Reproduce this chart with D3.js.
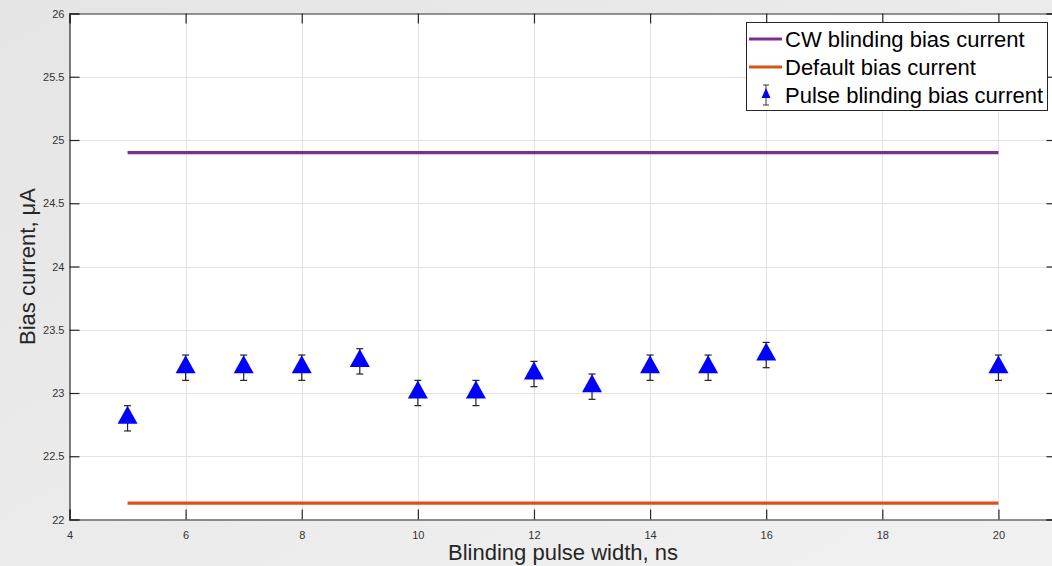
<!DOCTYPE html>
<html><head><meta charset="utf-8">
<script src="https://cdn.jsdelivr.net/npm/d3@7"></script>
<style>
html,body{margin:0;padding:0;background:#eae9e9;}
svg{display:block;font-family:"Liberation Sans",Arial,Helvetica,sans-serif;}
</style></head><body>
<svg id="chart" width="1052" height="566"></svg>
<script>
const pulseWidths = [5, 6, 7, 8, 9, 10, 11, 12, 13, 14, 15, 16, 20];
const pulseBias = [22.8, 23.2, 23.2, 23.2, 23.25, 23.0, 23.0, 23.15, 23.05, 23.2, 23.2, 23.3, 23.2];
const pulseErr = [0.1, 0.1, 0.1, 0.1, 0.1, 0.1, 0.1, 0.1, 0.1, 0.1, 0.1, 0.1, 0.1];
const cwBias = 24.9;
const defaultBias = 22.13;
const lineRange = [5, 20];
const xTicks = [4, 6, 8, 10, 12, 14, 16, 18, 20];
const yTicks = [22, 22.5, 23, 23.5, 24, 24.5, 25, 25.5, 26];
const legendLabels = ["CW blinding bias current", "Default bias current", "Pulse blinding bias current"];
const colors = {cw: "#7E2F8E", def: "#D95319", pulse: "#0000FF"};

const svg = d3.select("#chart");
const W = 1052, H = 566;
const defs = svg.append("defs");
const grad = defs.append("linearGradient").attr("id","bg").attr("x1","0").attr("y1","0").attr("x2","1").attr("y2","1");
grad.append("stop").attr("offset","0").attr("stop-color","#e6e5e5");
grad.append("stop").attr("offset","1").attr("stop-color","#f2f1f1");
svg.append("rect").attr("width",W).attr("height",H).attr("fill","url(#bg)");

const m = {left: 69.5, top: 13.5, right: 1056.5, bottom: 519.5};
const x = d3.scaleLinear().domain([4, 21]).range([m.left, m.right]);
const y = d3.scaleLinear().domain([22, 26]).range([m.bottom, m.top]);

svg.append("rect").attr("x",m.left).attr("y",m.top).attr("width",m.right-m.left).attr("height",m.bottom-m.top).attr("fill","#fff");

// grid
const grid = svg.append("g").attr("stroke","#e3e3e3").attr("stroke-width",1);
grid.selectAll(".gx").data(xTicks.filter(d=>d>4)).enter().append("line")
  .attr("x1",d=>Math.round(x(d))+0.5).attr("x2",d=>Math.round(x(d))+0.5).attr("y1",m.top).attr("y2",m.bottom);
grid.selectAll(".gy").data(yTicks.filter(d=>d>22&&d<26)).enter().append("line")
  .attr("y1",d=>Math.round(y(d))+0.5).attr("y2",d=>Math.round(y(d))+0.5).attr("x1",m.left).attr("x2",m.right);

// axes
const xAxis = d3.axisBottom(x).tickValues(xTicks).tickSize(-10).tickPadding(12).tickFormat(d3.format("d"));
const gx = svg.append("g").attr("transform",`translate(0,${m.bottom})`).call(xAxis);
const xAxisTop = d3.axisTop(x).tickValues(xTicks).tickSize(-10).tickFormat("");
const gxt = svg.append("g").attr("transform",`translate(0,${m.top})`).call(xAxisTop);
const yAxis = d3.axisLeft(y).tickValues(yTicks).tickSize(-10).tickPadding(5).tickFormat(d=>String(d));
const gy = svg.append("g").attr("transform",`translate(${m.left},0)`).call(yAxis);
const yAxisR = d3.axisRight(y).tickValues(yTicks).tickSize(-10).tickFormat("");
const gyr = svg.append("g").attr("transform",`translate(${m.right},0)`).call(yAxisR);
[gx,gxt,gy,gyr].forEach(g=>{
  g.select(".domain").attr("stroke","#262626").attr("stroke-width",1.2);
  g.selectAll(".tick line").attr("stroke","#262626").attr("stroke-width",1.2);
  g.selectAll(".tick text").attr("fill","#333").attr("font-size",11).attr("font-family","Liberation Sans, Arial, sans-serif");
});

// horizontal reference lines
svg.append("line").attr("x1",x(lineRange[0])).attr("x2",x(lineRange[1])).attr("y1",y(cwBias)).attr("y2",y(cwBias))
  .attr("stroke",colors.cw).attr("stroke-width",3.2);
svg.append("line").attr("x1",x(lineRange[0])).attr("x2",x(lineRange[1])).attr("y1",y(defaultBias)).attr("y2",y(defaultBias))
  .attr("stroke",colors.def).attr("stroke-width",3.2);

// error bars
const pts = pulseWidths.map((d,i)=>({x:d, v:pulseBias[i], e:pulseErr[i]}));
const eb = svg.append("g").attr("stroke","#222").attr("stroke-width",1.2);
pts.forEach(p=>{
  const cx = x(p.x);
  eb.append("line").attr("x1",cx).attr("x2",cx).attr("y1",y(p.v+p.e)).attr("y2",y(p.v-p.e));
  eb.append("line").attr("x1",cx-3.5).attr("x2",cx+3.5).attr("y1",y(p.v+p.e)).attr("y2",y(p.v+p.e));
  eb.append("line").attr("x1",cx-3.5).attr("x2",cx+3.5).attr("y1",y(p.v-p.e)).attr("y2",y(p.v-p.e));
});
// triangles
svg.append("g").selectAll("path").data(pts).enter().append("path")
  .attr("d",p=>{const cx=x(p.x), cy=y(p.v); return `M${cx},${cy-12.5}L${cx+10},${cy+5.5}L${cx-10},${cy+5.5}Z`;})
  .attr("fill",colors.pulse);

// axis labels
svg.append("text").attr("x",(m.left+m.right)/2).attr("y",560).attr("text-anchor","middle")
  .attr("font-size",22).attr("fill","#262626").text("Blinding pulse width, ns");
svg.append("text").attr("transform",`translate(35,${(m.top+m.bottom)/2}) rotate(-90)`).attr("text-anchor","middle")
  .attr("font-size",22).attr("fill","#262626").text("Bias current, μA");

// legend
const lg = svg.append("g");
lg.append("rect").attr("x",746.5).attr("y",22.5).attr("width",301).attr("height",88).attr("fill","#fff").attr("stroke","#262626").attr("stroke-width",1);
const rowsY = [39, 67, 95];
lg.append("line").attr("x1",749).attr("x2",782).attr("y1",rowsY[0]).attr("y2",rowsY[0]).attr("stroke",colors.cw).attr("stroke-width",3.2);
lg.append("line").attr("x1",749).attr("x2",782).attr("y1",rowsY[1]).attr("y2",rowsY[1]).attr("stroke",colors.def).attr("stroke-width",3.2);
const lx = 766, ly = rowsY[2];
lg.append("line").attr("x1",lx).attr("x2",lx).attr("y1",ly-10).attr("y2",ly+10).attr("stroke","#333").attr("stroke-width",1);
lg.append("line").attr("x1",lx-3).attr("x2",lx+3).attr("y1",ly-10).attr("y2",ly-10).attr("stroke","#333").attr("stroke-width",1);
lg.append("line").attr("x1",lx-3).attr("x2",lx+3).attr("y1",ly+10).attr("y2",ly+10).attr("stroke","#333").attr("stroke-width",1);
lg.append("path").attr("d",`M${lx},${ly-7}L${lx+4.5},${ly+3}L${lx-4.5},${ly+3}Z`).attr("fill",colors.pulse);
lg.selectAll("text").data(legendLabels).enter().append("text")
  .attr("x",785).attr("y",(d,i)=>rowsY[i]+8).attr("font-size",22).attr("fill","#000").text(d=>d);
</script>
</body></html>
